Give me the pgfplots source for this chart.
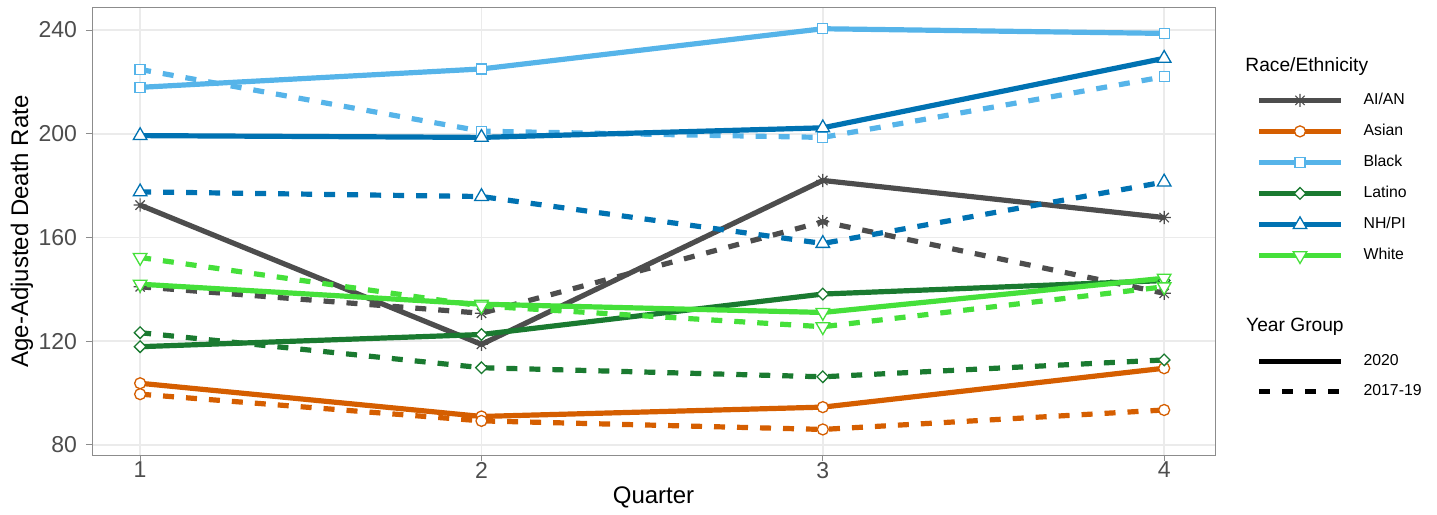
\documentclass[border=0pt]{standalone}
\usepackage{pgfplots}
\pgfplotsset{compat=1.18}
\usepackage{pgfplotstable}
\usepackage{fontspec}
\setmainfont{Liberation Sans}
\usetikzlibrary{calc}

\definecolor{caian}{HTML}{4D4D4D}
\definecolor{casian}{HTML}{D55E00}
\definecolor{cblack}{HTML}{56B4E9}
\definecolor{clatino}{HTML}{1A7A30}
\definecolor{cnhpi}{HTML}{0072B2}
\definecolor{cwhite}{HTML}{45E03A}
\definecolor{tickgray}{HTML}{4D4D4D}
\definecolor{gridgray}{HTML}{EBEBEB}

\pgfdeclareplotmark{rstar}{%
 \pgfpathmoveto{\pgfqpoint{-\pgfplotmarksize}{0pt}}\pgfpathlineto{\pgfqpoint{\pgfplotmarksize}{0pt}}%
 \pgfpathmoveto{\pgfqpoint{0pt}{-\pgfplotmarksize}}\pgfpathlineto{\pgfqpoint{0pt}{\pgfplotmarksize}}%
 \pgfpathmoveto{\pgfqpoint{-.7071\pgfplotmarksize}{-.7071\pgfplotmarksize}}\pgfpathlineto{\pgfqpoint{.7071\pgfplotmarksize}{.7071\pgfplotmarksize}}%
 \pgfpathmoveto{\pgfqpoint{-.7071\pgfplotmarksize}{.7071\pgfplotmarksize}}\pgfpathlineto{\pgfqpoint{.7071\pgfplotmarksize}{-.7071\pgfplotmarksize}}%
 \pgfusepathqstroke}

% columns: q = quarter, a = 2020, b = 2017-19
\pgfplotstableread{
q a b
1 172.5 141.0
2 118.8 130.8
3 182.0 166.1
4 167.7 138.5
}\aian
\pgfplotstableread{
q a b
1 103.8 99.6
2 91.0 89.3
3 94.6 86.0
4 109.6 93.5
}\asian
\pgfplotstableread{
q a b
1 217.9 224.8
2 225.0 201.0
3 240.5 198.6
4 238.7 222.0
}\black
\pgfplotstableread{
q a b
1 117.9 123.3
2 122.6 109.8
3 138.2 106.3
4 143.4 112.8
}\latino
\pgfplotstableread{
q a b
1 199.3 177.6
2 198.6 175.8
3 202.3 157.7
4 229.1 181.4
}\nhpi
\pgfplotstableread{
q a b
1 142.0 152.3
2 134.3 133.6
3 131.1 125.6
4 144.3 141.0
}\white

\tikzset{
  lw/.style={line width=2.6pt},
  dsh/.style={dash pattern=on 5.5pt off 6pt},
  mk/.style={mark options={solid, fill=white, line width=0.65pt}},
}
\pgfplotsset{
  mkaian/.style={mark=rstar, mark size=3.3pt, mark options={solid, line width=0.6pt}},
  mkasian/.style={mark=*, mark size=2.75pt, mk},
  mkblack/.style={mark=square*, mark size=2.5pt, mk},
  mklatino/.style={mark=square*, mark size=2.05pt, mark options={solid, fill=white, line width=0.65pt, rotate=45}},
  mknhpi/.style={mark=triangle*, mark size=3.9pt, mk},
  mkwhite/.style={mark=triangle*, mark size=3.9pt, mark options={solid, fill=white, line width=0.65pt, rotate=180}},
  legimg/.style={legend image code/.code={%
    \draw[##1, mark repeat=2, mark phase=2] plot coordinates {(0pt,0pt) (20.5pt,0pt) (41pt,0pt)};}},
  legline/.style={legend image code/.code={%
    \draw[##1] (0pt,0pt) -- (41pt,0pt);}},
  common/.style={
    scale only axis, width=561.5pt, height=223.5pt,
    xmin=0.859, xmax=4.149, ymin=76.14, ymax=248.5,
  },
}

\begin{document}
\begin{tikzpicture}
\begin{axis}[common,
  name=ax,
  /pgf/number format/assume math mode=true,
  axis line style={draw=black!45, line width=0.5pt},
  xtick={1,2,3,4}, ytick={80,120,160,200,240},
  tick align=outside, major tick length=3pt,
  tick style={draw=black!45, line width=0.5pt},
  xtick pos=bottom, ytick pos=left,
  grid=major, major grid style={draw=gridgray, line width=0.8pt},
  ticklabel style={font=\fontsize{11.5}{13}\selectfont, text=tickgray},
  yticklabel style={xshift=-1pt},
  xticklabel style={yshift=3pt},
  xlabel={Quarter}, ylabel={Age-Adjusted Death Rate},
  label style={font=\fontsize{12}{14}\selectfont},
  xlabel style={at={(axis description cs:0.5,-0.1074)}, anchor=base, inner sep=0pt},
  ylabel style={at={(axis description cs:-0.0623,0.5)}, anchor=center},
  legimg,
  legend cell align=left,
  legend style={draw=none, fill=none, at={(rel axis cs:1.0365,0.811)}, anchor=north west,
    inner sep=0pt, font=\fontsize{7.9}{9}\selectfont, row sep=8pt,
    nodes={inner sep=0pt, text height=5.8pt, text depth=1.7pt},
    /tikz/every odd column/.append style={column sep=10pt}},
  clip=false,
]
\addlegendimage{caian, lw, mkaian}\addlegendentry{AI/AN}
\addlegendimage{casian, lw, mkasian}\addlegendentry{Asian}
\addlegendimage{cblack, lw, mkblack}\addlegendentry{Black}
\addlegendimage{clatino, lw, mklatino}\addlegendentry{Latino}
\addlegendimage{cnhpi, lw, mknhpi}\addlegendentry{NH/PI}
\addlegendimage{cwhite, lw, mkwhite}\addlegendentry{White}

% lines
\addplot[forget plot, caian, lw, no markers] table[x=q,y=a]{\aian};
\addplot[forget plot, caian, lw, dsh, no markers] table[x=q,y=b]{\aian};
\addplot[forget plot, casian, lw, no markers] table[x=q,y=a]{\asian};
\addplot[forget plot, casian, lw, dsh, no markers] table[x=q,y=b]{\asian};
\addplot[forget plot, cblack, lw, no markers] table[x=q,y=a]{\black};
\addplot[forget plot, cblack, lw, dsh, no markers] table[x=q,y=b]{\black};
\addplot[forget plot, clatino, lw, no markers] table[x=q,y=a]{\latino};
\addplot[forget plot, clatino, lw, dsh, no markers] table[x=q,y=b]{\latino};
\addplot[forget plot, cnhpi, lw, no markers] table[x=q,y=a]{\nhpi};
\addplot[forget plot, cnhpi, lw, dsh, no markers] table[x=q,y=b]{\nhpi};
\addplot[forget plot, cwhite, lw, no markers] table[x=q,y=a]{\white};
\addplot[forget plot, cwhite, lw, dsh, no markers] table[x=q,y=b]{\white};

% markers
\addplot[forget plot, caian, only marks, mkaian] table[x=q,y=a]{\aian};
\addplot[forget plot, caian, only marks, mkaian] table[x=q,y=b]{\aian};
\addplot[forget plot, casian, only marks, mkasian] table[x=q,y=a]{\asian};
\addplot[forget plot, casian, only marks, mkasian] table[x=q,y=b]{\asian};
\addplot[forget plot, cblack, only marks, mkblack] table[x=q,y=a]{\black};
\addplot[forget plot, cblack, only marks, mkblack] table[x=q,y=b]{\black};
\addplot[forget plot, clatino, only marks, mklatino] table[x=q,y=a]{\latino};
\addplot[forget plot, clatino, only marks, mklatino] table[x=q,y=b]{\latino};
\addplot[forget plot, cnhpi, only marks, mknhpi] table[x=q,y=a]{\nhpi};
\addplot[forget plot, cnhpi, only marks, mknhpi] table[x=q,y=b]{\nhpi};
\addplot[forget plot, cwhite, only marks, mkwhite] table[x=q,y=a]{\white};
\addplot[forget plot, cwhite, only marks, mkwhite] table[x=q,y=b]{\white};

\node[anchor=west, inner sep=0pt, font=\fontsize{9.6}{11}\selectfont] at (rel axis cs:1.0267,0.868) {Race/Ethnicity};
\node[anchor=west, inner sep=0pt, font=\fontsize{9.6}{11}\selectfont] at (rel axis cs:1.0274,0.2863) {Year Group};
\coordinate (SW) at (rel axis cs:0,0);
\coordinate (NE) at (rel axis cs:1,1);
\end{axis}
\begin{axis}[common, hide axis,
  legline,
  legend cell align=left,
  legend style={draw=none, fill=none, at={(rel axis cs:1.0365,0.227)}, anchor=north west,
    inner sep=0pt, font=\fontsize{7.9}{9}\selectfont, row sep=7.5pt,
    nodes={inner sep=0pt, text height=5.8pt, text depth=1.7pt},
    /tikz/every odd column/.append style={column sep=10pt}},
]
\addlegendimage{black, line width=2.6pt}\addlegendentry{2020}
\addlegendimage{black, line width=2.6pt, dash pattern=on 5.5pt off 6pt}\addlegendentry{2017-19}
\end{axis}
\pgfresetboundingbox
\path ($(SW)+(-46pt,-29.5pt)$) rectangle ($(NE)+(111pt,4pt)$);
\end{tikzpicture}
\end{document}
